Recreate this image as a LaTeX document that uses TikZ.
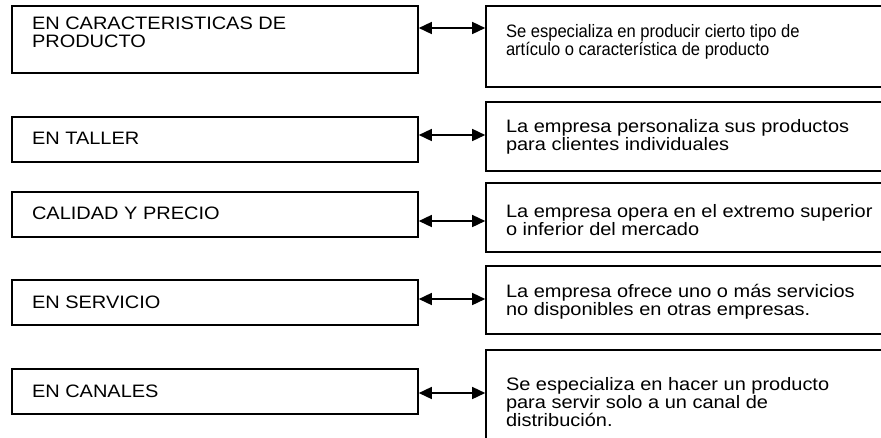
\documentclass[tikz,border=0pt]{standalone}
\usepackage{fontspec}
\setmainfont{Liberation Sans}
\newfontfamily\widefont[FakeStretch=1.11]{Liberation Sans}
\newfontfamily\plainfont[FakeStretch=0.92]{Liberation Sans}
\usetikzlibrary{arrows.meta}
\newcommand{\boxtext}[1]{\parbox[t]{390pt}{\raggedright #1}}
\tikzset{
  frame/.style={draw=black, line width=1.7pt, anchor=north west, inner sep=0pt, outer sep=0pt},
  txt/.style={anchor=base west, inner sep=0pt, outer sep=0pt, font={\widefont\fontsize{18}{18}\selectfont}},
  txtn/.style={anchor=base west, inner sep=0pt, outer sep=0pt, font={\plainfont\fontsize{18}{18}\selectfont}},
  link/.style={line width=1.5pt, {Triangle[length=13pt,width=12pt]}-{Triangle[length=13pt,width=12pt]}, shorten <=0.8pt, shorten >=0.8pt}
}
\begin{document}
\begin{tikzpicture}[x=1pt,y=-1pt]
\useasboundingbox (0,0) rectangle (881,437);
\clip (0,0) rectangle (881,437);
\fill[white] (0,0) rectangle (881,437);
% left boxes
\node[frame, minimum width=406pt, minimum height=67pt] (l1) at (12,6) {};
\node[frame, minimum width=406pt, minimum height=45pt] (l2) at (12,117) {};
\node[frame, minimum width=406pt, minimum height=45pt] (l3) at (12,192) {};
\node[frame, minimum width=406pt, minimum height=45pt] (l4) at (12,280) {};
\node[frame, minimum width=406pt, minimum height=45pt] (l5) at (12,369) {};
% right boxes
\node[frame, minimum width=420pt, minimum height=81pt] (r1) at (486,6) {};
\node[frame, minimum width=420pt, minimum height=69pt] (r2) at (486,102) {};
\node[frame, minimum width=420pt, minimum height=69pt] (r3) at (486,183) {};
\node[frame, minimum width=420pt, minimum height=68pt] (r4) at (486,266) {};
\node[frame, minimum width=420pt, minimum height=110pt] (r5) at (486,350) {};
% texts left
\node[txt] (tl1) at (32,29) {\boxtext{EN CARACTERISTICAS DE\\PRODUCTO}};
\node[txt] (tl2) at (32,144) {\boxtext{EN TALLER}};
\node[txt] (tl3) at (32,219) {\boxtext{CALIDAD Y PRECIO}};
\node[txt] (tl4) at (32,308) {\boxtext{EN SERVICIO}};
\node[txt] (tl5) at (32,397) {\boxtext{EN CANALES}};
% texts right
\node[txtn] (tr1) at (506,37) {\boxtext{Se especializa en producir cierto tipo de\\art\'iculo o caracter\'istica de producto}};
\node[txt] (tr2) at (506,132) {\boxtext{La empresa personaliza sus productos\\para clientes individuales}};
\node[txt] (tr3) at (506,217) {\boxtext{La empresa opera en el extremo superior\\o inferior del mercado}};
\node[txt] (tr4) at (506,297) {\boxtext{La empresa ofrece uno o m\'as servicios\\no disponibles en otras empresas.}};
\node[txt] (tr5) at (506,390) {\boxtext{Se especializa en hacer un producto\\para servir solo a un canal de\\distribuci\'on.}};
% arrows
\coordinate (y1) at (0,28);
\coordinate (y2) at (0,135);
\coordinate (y3) at (0,221);
\coordinate (y4) at (0,299);
\coordinate (y5) at (0,393);
\draw[link] (l1.east |- y1) -- (r1.west |- y1);
\draw[link] (l2.east |- y2) -- (r2.west |- y2);
\draw[link] (l3.east |- y3) -- (r3.west |- y3);
\draw[link] (l4.east |- y4) -- (r4.west |- y4);
\draw[link] (l5.east |- y5) -- (r5.west |- y5);
\end{tikzpicture}
\end{document}
